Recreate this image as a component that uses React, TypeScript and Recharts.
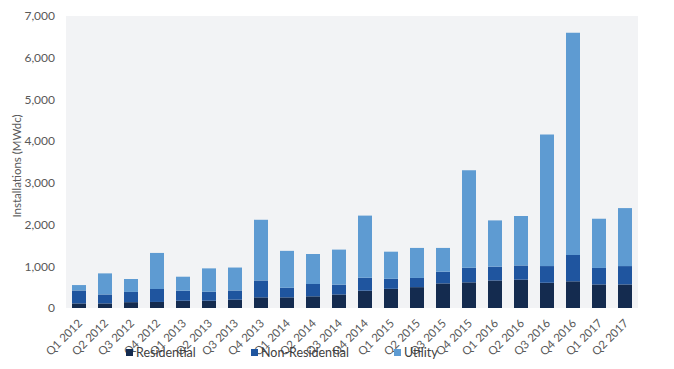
import React from 'react';
import { BarChart, Bar, XAxis, YAxis, CartesianGrid, Legend } from 'recharts';

const quarters = [
  'Q1 2012', 'Q2 2012', 'Q3 2012', 'Q4 2012',
  'Q1 2013', 'Q2 2013', 'Q3 2013', 'Q4 2013',
  'Q1 2014', 'Q2 2014', 'Q3 2014', 'Q4 2014',
  'Q1 2015', 'Q2 2015', 'Q3 2015', 'Q4 2015',
  'Q1 2016', 'Q2 2016', 'Q3 2016', 'Q4 2016',
  'Q1 2017', 'Q2 2017',
];
const residential = [110, 110, 140, 145, 175, 175, 200, 255, 255, 280, 325, 415, 460, 500, 590, 615, 660, 680, 605, 640, 565, 565];
const nonResidential = [310, 215, 245, 310, 240, 215, 220, 405, 230, 295, 235, 310, 240, 220, 280, 350, 330, 340, 400, 630, 395, 440];
const utility = [130, 505, 310, 865, 335, 560, 550, 1455, 885, 720, 840, 1490, 650, 720, 570, 2335, 1110, 1185, 3155, 5330, 1180, 1390];
const yTicks = [0, 1000, 2000, 3000, 4000, 5000, 6000, 7000];

const COLORS = {
  Residential: '#142b4f',
  'Non-Residential': '#1f559f',
  Utility: '#5e9bd2',
};

const data = quarters.map((q, i) => ({
  name: q,
  Residential: residential[i],
  'Non-Residential': nonResidential[i],
  Utility: utility[i],
}));

const FONT = 'Lato, "Open Sans", sans-serif';

const QuarterTick = (props: any) => {
  const { x, y, payload } = props;
  return (
    <text
      x={x + 4}
      y={y + 8}
      transform={`rotate(-45, ${x + 4}, ${y + 8})`}
      textAnchor="end"
      fill="#595959"
      fontSize={11.5}
      fontFamily={FONT}
    >
      {payload.value}
    </text>
  );
};

const LegendContent = () => {
  const widths = [125, 143, 80];
  const names = Object.keys(COLORS) as (keyof typeof COLORS)[];
  return (
    <div style={{ display: 'flex', paddingLeft: 126, fontFamily: FONT, fontSize: 12.5, color: '#404040' }}>
      {names.map((n, i) => (
        <div key={n} style={{ width: widths[i], display: 'flex', alignItems: 'center' }}>
          <span style={{ display: 'inline-block', width: 7, height: 7, background: COLORS[n], marginRight: 3 }} />
          {n}
        </div>
      ))}
    </div>
  );
};

export default function App() {
  return (
    <div style={{ position: 'absolute', left: 0, top: 0, width: 674, height: 369, background: '#fff' }}>
      <BarChart
        width={674}
        height={369}
        data={data}
        margin={{ top: 16, right: 36, left: 0, bottom: 0 }}
        barSize={14}
      >
        <CartesianGrid fill="#f2f3f5" horizontal={false} vertical={false} />
        <XAxis
          dataKey="name"
          height={61}
          axisLine={false}
          tickLine={false}
          interval={0}
          tick={<QuarterTick />}
        />
        <YAxis
          width={66}
          domain={[0, 7000]}
          ticks={yTicks}
          axisLine={false}
          tickLine={false}
          tickMargin={5}
          tickFormatter={(v: number) => v.toLocaleString('en-US')}
          tick={{ fill: '#595959', fontSize: 12, fontFamily: FONT }}
          label={{
            value: 'Installations (MWdc)',
            angle: -90,
            position: 'insideLeft',
            offset: 17,
            dy: 4,
            style: { textAnchor: 'middle', fill: '#595959', fontSize: 11.5, fontFamily: FONT },
          }}
        />
        <Legend
          content={<LegendContent />}
          wrapperStyle={{ top: 345, left: 0, width: 674, height: 0, overflow: 'visible' }}
        />
        <Bar dataKey="Residential" stackId="a" fill={COLORS.Residential} isAnimationActive={false} />
        <Bar dataKey="Non-Residential" stackId="a" fill={COLORS['Non-Residential']} isAnimationActive={false} />
        <Bar dataKey="Utility" stackId="a" fill={COLORS.Utility} isAnimationActive={false} />
      </BarChart>
    </div>
  );
}
